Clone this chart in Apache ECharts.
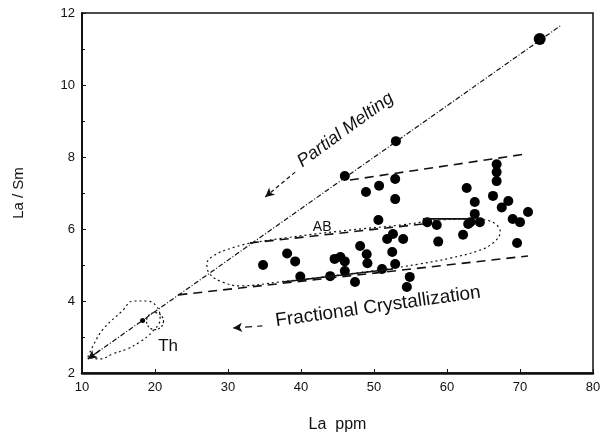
<!DOCTYPE html>
<html>
<head>
<meta charset="utf-8">
<script src="https://cdn.jsdelivr.net/npm/echarts@6/dist/echarts.min.js"></script>
<style>
  html, body { margin: 0; padding: 0; background: #fff; }
  #chart { width: 604px; height: 438px; }
</style>
</head>
<body>
<div id="chart"></div>
<script>
// 轴刻度
const xTicks = [10, 20, 30, 40, 50, 60, 70, 80]
const yTicks = [2, 4, 6, 8, 10, 12]

// 样品点 (La ppm, La/Sm)
const samples = [
  [53.0, 8.44], [46.0, 7.47], [48.9, 7.03], [50.7, 7.2], [52.9, 7.39], [52.9, 6.83],
  [50.6, 6.25], [48.1, 5.53], [49.0, 5.3], [49.1, 5.05], [34.8, 5.0], [38.1, 5.32],
  [39.2, 5.1], [39.9, 4.68], [44.0, 4.69], [44.6, 5.17], [45.4, 5.22], [46.0, 5.1],
  [46.0, 4.83], [47.4, 4.53], [52.6, 5.86], [51.8, 5.72], [54.0, 5.72], [52.5, 5.36],
  [52.9, 5.03], [51.1, 4.89], [54.9, 4.67], [54.5, 4.39], [57.3, 6.19], [58.6, 6.11],
  [58.8, 5.65], [62.2, 5.84], [62.7, 7.14], [62.9, 6.14], [63.2, 6.19], [63.8, 6.75],
  [63.8, 6.42], [64.5, 6.19], [66.8, 7.8], [66.8, 7.58], [66.8, 7.33], [66.3, 6.92],
  [67.5, 6.6], [68.4, 6.78], [69.0, 6.28], [70.0, 6.19], [71.1, 6.47], [69.6, 5.61]
]
const topSample = [[72.7, 11.28]]
const openSamples = [[21.5, 4.44], [24.8, 3.5], [17.3, 3.42]]
const thSamples = [[18.3, 3.46]]

// 趋势线
const meltingLine = [[10.8, 2.39], [75.5, 11.64]]
const upperTrend = [[46.7, 7.36], [70.7, 8.08]]
const middleTrend = [[33.0, 5.61], [56.7, 6.14]]
const middleSolid = [[56.7, 6.28], [63.2, 6.28]]
const lowerTrend = [[23.2, 4.17], [71.1, 5.25]]
const lowerSolid = [[37.5, 4.53], [52.6, 4.89]]

// AB 区域和 Th 区域轮廓
const abField = [
  [33.0, 5.61], [39.9, 5.81], [46.7, 5.97], [53.6, 6.11], [59.0, 6.25], [63.2, 6.28],
  [65.9, 6.22], [67.3, 5.92], [66.3, 5.61], [64.2, 5.39], [60.4, 5.19], [56.3, 5.03],
  [50.8, 4.86], [44.0, 4.69], [37.1, 4.53], [31.6, 4.42], [29.2, 4.53], [27.5, 4.75],
  [27.1, 5.03], [28.2, 5.28], [30.5, 5.47], [33.0, 5.61]
]
const thField = [
  [10.8, 2.44], [11.5, 2.75], [12.9, 3.22], [15.5, 3.72], [17.0, 4.0], [18.9, 4.0],
  [20.3, 3.83], [20.7, 3.5], [19.6, 3.14], [17.9, 2.86], [16.2, 2.67], [14.2, 2.53],
  [12.5, 2.39], [10.8, 2.44]
]
const thCircle = [[20.0, 3.44]]

// 注释箭头
const meltingArrow = [[35.1, 6.89], [39.2, 7.58]]
const fracArrow = [[30.7, 3.25], [34.7, 3.31]]

const fontFamily = 'Liberation Sans, Arial, sans-serif'

const lineSeries = (data, type, width, smooth) => ({
  type: 'line',
  data: data,
  symbol: 'none',
  smooth: smooth || false,
  silent: true,
  lineStyle: { color: '#111', width: width, type: type }
})

const arrowLine = (pts, type) => ({
  type: 'line',
  data: [],
  markLine: {
    silent: true,
    symbol: ['arrow', 'none'],
    symbolSize: [7, 9],
    label: { show: false },
    lineStyle: { color: '#111', width: 1.2, type: type },
    data: [[{ coord: pts[0] }, { coord: pts[1] }]]
  }
})

const dotSeries = (data, size) => ({
  type: 'scatter', data: data, symbol: 'circle', symbolSize: size,
  itemStyle: { color: '#000', opacity: 1 }
})

const chart = echarts.init(document.getElementById('chart'))

const option = {
  backgroundColor: '#ffffff',
  animation: false,
  grid: {
    left: 82, right: 11, top: 13, bottom: 64,
    show: true, borderColor: '#111', borderWidth: 1.5
  },
  xAxis: {
    type: 'value',
    min: xTicks[0], max: xTicks[xTicks.length - 1], interval: 10,
    name: 'La  ppm', nameLocation: 'middle', nameGap: 44,
    nameTextStyle: { fontFamily: fontFamily, fontSize: 16, color: '#111' },
    axisLine: { lineStyle: { color: '#111', width: 2.5 } },
    axisTick: { inside: true, length: 4, lineStyle: { color: '#111' } },
    axisLabel: { fontFamily: fontFamily, fontSize: 13, color: '#111', margin: 8 },
    splitLine: { show: false }
  },
  yAxis: {
    type: 'value',
    min: yTicks[0], max: yTicks[yTicks.length - 1], interval: 2,
    name: 'La / Sm', nameLocation: 'middle', nameGap: 56, nameRotate: 90,
    nameTextStyle: { fontFamily: fontFamily, fontSize: 15, color: '#111' },
    axisLine: { lineStyle: { color: '#111', width: 2 } },
    axisTick: { inside: true, length: 4, lineStyle: { color: '#111' } },
    minorTick: { show: true, splitNumber: 2, length: 3, lineStyle: { color: '#111' } },
    axisLabel: { fontFamily: fontFamily, fontSize: 13, color: '#111', margin: 7 },
    splitLine: { show: false }
  },
  series: [
    lineSeries(meltingLine, [5, 2, 1, 2], 1.2),
    lineSeries(upperTrend, [9, 6], 1.6),
    lineSeries(middleTrend, [9, 6], 1.6),
    lineSeries(middleSolid, 'solid', 1.6),
    lineSeries(lowerTrend, [9, 6], 1.6),
    lineSeries(lowerSolid, 'solid', 1.6),
    lineSeries(abField, [2, 3], 1.2, 0.4),
    lineSeries(thField, [2, 3], 1.2, 0.4),
    arrowLine([meltingLine[0], [12.5, 2.64]], 'solid'),
    arrowLine(meltingArrow, [4, 3]),
    arrowLine(fracArrow, [7, 5]),
    {
      type: 'scatter', data: thCircle, symbol: 'circle', symbolSize: 17,
      itemStyle: { color: 'transparent', borderColor: '#111', borderWidth: 1.2, borderType: [2, 2], opacity: 1 }
    },
    dotSeries(samples, 10),
    dotSeries(topSample, 12),
    dotSeries(thSamples, 5),
    {
      type: 'scatter', data: openSamples, symbol: 'emptyCircle', symbolSize: 7,
      itemStyle: { color: '#fff', borderColor: '#111', borderWidth: 1.2, opacity: 1 }
    }
  ]
}

chart.setOption(option)

// 文字注释: 用数据坐标定位
const toPx = (p) => chart.convertToPixel({ gridIndex: 0 }, p)
const labelText = (text, at, deg, size, extra) => {
  const p = toPx(at)
  return {
    type: 'text',
    x: p[0], y: p[1],
    rotation: deg * Math.PI / 180,
    silent: true,
    style: Object.assign({
      text: text,
      fill: '#111',
      font: size + 'px ' + fontFamily,
      textAlign: 'left',
      textVerticalAlign: 'bottom'
    }, extra || {})
  }
}

chart.setOption({
  graphic: [
    labelText('Partial Melting', [40.5, 7.62], 36, 18, { font: 'italic 18px ' + fontFamily }),
    labelText('Fractional Crystallization', [36.7, 3.18], 8, 19),
    labelText('AB', [42.9, 6.06], 0, 14, { textAlign: 'center', textVerticalAlign: 'middle' }),
    labelText('Th', [21.8, 2.75], 0, 17, { textAlign: 'center', textVerticalAlign: 'middle' })
  ]
})
</script>
</body>
</html>
